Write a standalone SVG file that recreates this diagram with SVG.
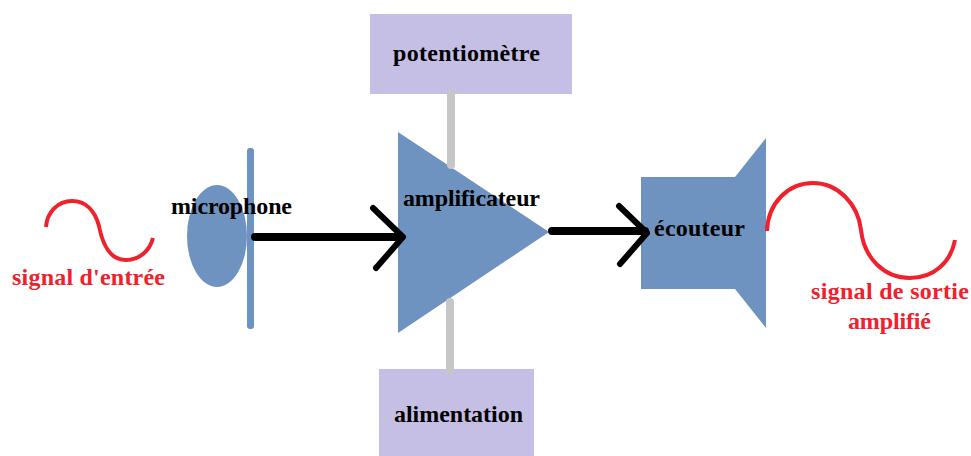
<svg xmlns="http://www.w3.org/2000/svg" width="971" height="456" viewBox="0 0 971 456">
<style>
.b{fill:#6f93c0}.box{fill:#c6bfe5}
.g{stroke:#c6c6c6;stroke-width:8;fill:none;stroke-linecap:round}
.k{stroke:#000;stroke-width:8;fill:none;stroke-linecap:round}
.k2{stroke:#000;stroke-width:6;fill:none;stroke-linecap:round;stroke-linejoin:round}
.r{stroke:#f0202c;stroke-width:4;fill:none}
text{font-family:"Liberation Serif",serif;font-weight:bold;font-size:24px;fill:#000}
.t{fill:#f0202c}
</style>
<rect width="971" height="456" fill="#fff"/>
<g id="potentiometre"><rect class="box" x="370" y="14" width="202" height="80"/><text x="393" y="61" textLength="147" lengthAdjust="spacing">potentiomètre</text></g>
<g id="alimentation"><rect class="box" x="379" y="369" width="155" height="87"/><text x="394" y="422" textLength="129" lengthAdjust="spacing">alimentation</text></g>
<g id="microphone"><ellipse class="b" cx="217" cy="236" rx="30" ry="51"/><rect class="b" x="247" y="148" width="7" height="181" rx="3"/><text x="171" y="214" textLength="121" lengthAdjust="spacing">microphone</text></g>
<g id="amplificateur"><path class="b" d="M398 132L549 232L398 333Z"/></g>
<g id="ecouteur"><path class="b" d="M641 177H735L766 138V328L735 289H641Z"/><text x="654" y="236" textLength="91" lengthAdjust="spacing">écouteur</text></g>
<g id="connectors">
<path class="g" d="M451 93V165M450 302V370"/>
<path class="k" d="M255 237H400M552 231H645"/>
<path class="k2" d="M373 208L403 237L376 268M619 206L647 233L620 264"/>
</g>
<text x="403" y="206" textLength="137" lengthAdjust="spacing">amplificateur</text>
<g id="entree"><path class="r" d="M46 227C47 212 58 201 72 201C86 201 95 211 99 226C103 247 112 260 126 260C140 260 150 250 153 238"/><text class="t" x="12" y="285" textLength="153" lengthAdjust="spacing">signal d'entrée</text></g>
<g id="sortie"><path class="r" d="M767 231C768 203 788 183 813 183C838 183 858 204 861 230C864 258 884 278 910 278C934 278 951 262 955 240"/><text class="t" x="811" y="299" textLength="158" lengthAdjust="spacing">signal de sortie</text><text class="t" x="848" y="329" textLength="83" lengthAdjust="spacing">amplifié</text></g>
</svg>
